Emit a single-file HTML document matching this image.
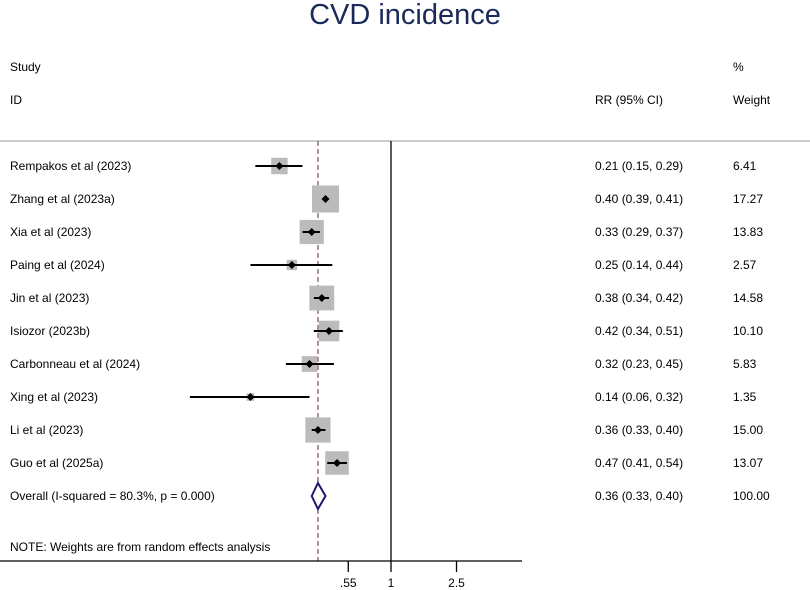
<!DOCTYPE html>
<html><head><meta charset="utf-8"><style>
body{margin:0;background:#fff;}
svg{display:block;font-family:"Liberation Sans",Arial,sans-serif;}
</style></head><body>
<svg width="810" height="590" id="chart">
<text x="405" y="24" font-size="29" fill="#1a2a5a" text-anchor="middle">CVD incidence</text>
<text x="10" y="71" font-size="12">Study</text>
<text x="10" y="104" font-size="12">ID</text>
<text x="595" y="104" font-size="12">RR (95% CI)</text>
<text x="733" y="71" font-size="12">%</text>
<text x="733" y="104" font-size="12">Weight</text>
<line x1="0" y1="141" x2="810" y2="141" stroke="#bbb" stroke-width="1.5"/>
<g id="marks"></g>
</svg>
<script>
const studies=["Rempakos et al (2023)","Zhang et al (2023a)","Xia et al (2023)","Paing et al (2024)","Jin et al (2023)","Isiozor (2023b)","Carbonneau et al (2024)","Xing et al (2023)","Li et al (2023)","Guo et al (2025a)"];
const rr=[0.21,0.40,0.33,0.25,0.38,0.42,0.32,0.14,0.36,0.47];
const lo=[0.15,0.39,0.29,0.14,0.34,0.34,0.23,0.06,0.33,0.41];
const hi=[0.29,0.41,0.37,0.44,0.42,0.51,0.45,0.32,0.40,0.54];
const weights=[6.41,17.27,13.83,2.57,14.58,10.10,5.83,1.35,15.00,13.07];
const overall=[0.36,0.33,0.40];
const ticks=[0.55,1,2.5];
const tickLabels=[".55","1","2.5"];
const NS="http://www.w3.org/2000/svg";
const g=document.getElementById('marks');
const X=v=>391+71.5*Math.log(v);
const rowY=i=>166+33*i;
function el(t,a,txt){const e=document.createElementNS(NS,t);for(const k in a)e.setAttribute(k,a[k]);if(txt!==undefined)e.textContent=txt;g.appendChild(e);return e;}
const yBot=561;
let e;
e=el('line',{x1:391,y1:141,x2:391,y2:yBot,stroke:'#000','stroke-width':1.3});


e=el('line',{x1:X(overall[0]),y1:141,x2:X(overall[0]),y2:yBot,stroke:'#8b5a6a','stroke-width':1.3,'stroke-dasharray':'5,3'});


studies.forEach((s,i)=>{
 const y=rowY(i),cx=X(rr[i]),side=6.5*Math.sqrt(weights[i]);
 e=el('rect',{x:cx-side/2,y:y-side/2,width:side,height:side,fill:'#bbb'});
 
 
 e=el('line',{x1:X(lo[i]),y1:y,x2:X(hi[i]),y2:y,stroke:'#000','stroke-width':2});
 
 
 e=el('polygon',{points:`${cx-4},${y} ${cx},${y-4} ${cx+4},${y} ${cx},${y+4}`,fill:'#000'});
 
 
 e=el('text',{x:10,y:y+4,'font-size':12},s);
 
 
 e=el('text',{x:595,y:y+4,'font-size':12},`${rr[i].toFixed(2)} (${lo[i].toFixed(2)}, ${hi[i].toFixed(2)})`);
 
 
 e=el('text',{x:733,y:y+4,'font-size':12},weights[i].toFixed(2));
 
 
});
const oy=rowY(10);
e=el('polygon',{points:`${X(overall[1])},${oy} ${X(overall[0])},${oy-13} ${X(overall[2])},${oy} ${X(overall[0])},${oy+13}`,fill:'#fff',stroke:'#1a1a6a','stroke-width':2});


e=el('text',{x:10,y:oy+4,'font-size':12},'Overall  (I-squared = 80.3%, p = 0.000)');


e=el('text',{x:595,y:oy+4,'font-size':12},`${overall[0].toFixed(2)} (${overall[1].toFixed(2)}, ${overall[2].toFixed(2)})`);


e=el('text',{x:733,y:oy+4,'font-size':12},'100.00');


e=el('text',{x:10,y:551,'font-size':12},'NOTE: Weights are from random effects analysis');


e=el('line',{x1:0,y1:yBot,x2:522,y2:yBot,stroke:'#000','stroke-width':1.3});


ticks.forEach((t,i)=>{
 e=el('line',{x1:X(t),y1:yBot,x2:X(t),y2:yBot+11,stroke:'#000','stroke-width':1.3});
 
 
 e=el('text',{x:X(t),y:587,'font-size':12,'text-anchor':'middle'},tickLabels[i]);
 
 
});
</script>
</body></html>
